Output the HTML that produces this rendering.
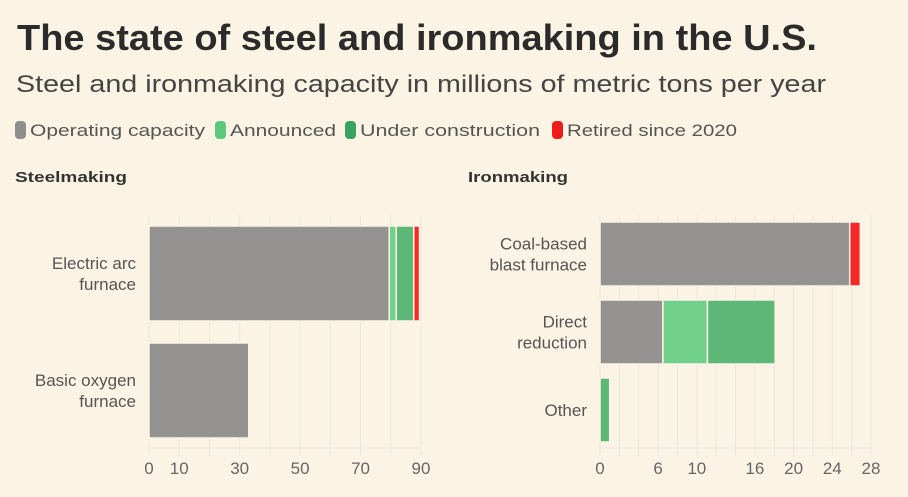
<!DOCTYPE html>
<html><head><meta charset="utf-8"><style>
html,body{margin:0;padding:0;background:#fbf4e4;}
svg{display:block;font-family:"Liberation Sans",sans-serif;}
</style></head><body>
<svg id="chart" width="908" height="497" viewBox="0 0 908 497">
<rect width="908" height="497" fill="#fbf4e4"/>
<text x="17" y="50" font-size="36" font-weight="bold" fill="#2b2b2b" textLength="800" lengthAdjust="spacingAndGlyphs">The state of steel and ironmaking in the U.S.</text>
<text x="16" y="92" font-size="24" fill="#444" textLength="810" lengthAdjust="spacingAndGlyphs">Steel and ironmaking capacity in millions of metric tons per year</text>
<g font-size="17" fill="#555">
<rect x="15" y="121" width="11" height="18" rx="4" fill="#8f8d8d"/>
<text x="30" y="136" textLength="175" lengthAdjust="spacingAndGlyphs">Operating capacity</text>
<rect x="215" y="121" width="11" height="18" rx="4" fill="#5cc87e"/>
<text x="230" y="136" textLength="106" lengthAdjust="spacingAndGlyphs">Announced</text>
<rect x="345" y="121" width="11" height="18" rx="4" fill="#3aa35f"/>
<text x="360" y="136" textLength="180" lengthAdjust="spacingAndGlyphs">Under construction</text>
<rect x="552" y="121" width="11" height="18" rx="4" fill="#ee1c1c"/>
<text x="567" y="136" textLength="170" lengthAdjust="spacingAndGlyphs">Retired since 2020</text>
</g>
<text x="15" y="182" font-size="15" font-weight="bold" fill="#333" textLength="112" lengthAdjust="spacingAndGlyphs">Steelmaking</text>
<text x="468" y="182" font-size="15" font-weight="bold" fill="#333" textLength="100" lengthAdjust="spacingAndGlyphs">Ironmaking</text>
<g id="left"></g><g id="right"></g>
</svg>
<script>
const colors=["#959391","#6fcf8b","#5db878","#f42a2a"];
const steelCats=[["Electric arc","furnace"],["Basic oxygen","furnace"]];
const steelOperating=[79.5,33];
const steelAnnounced=[2.3,0];
const steelUnder=[5.8,0];
const steelRetired=[1.9,0];
const steelTicks=[0,10,30,50,70,90];
const ironCats=[["Coal-based","blast furnace"],["Direct","reduction"],["Other"]];
const ironOperating=[25.8,6.5,0];
const ironAnnounced=[0,4.6,0];
const ironUnder=[0,7,1];
const ironRetired=[1.1,0,0];
const ironTicks=[0,6,10,16,20,24,28];
const NS="http://www.w3.org/2000/svg";
function mk(p,tag,a){const e=document.createElementNS(NS,tag);for(const k in a)e.setAttribute(k,a[k]);p.appendChild(e);return e;}
function panel(g,cfg){
  const x=v=>cfg.x0+(v/cfg.max)*(cfg.x1-cfg.x0);
  for(let v=0;v<=cfg.max;v+=cfg.grid){
    const l=mk(g,'line',{x1:x(v),x2:x(v),y1:cfg.gTop,y2:cfg.axisY+8,stroke:'#ece7df','stroke-width':1});
    
    
  }
  const ax=mk(g,'line',{x1:cfg.x0,x2:x(cfg.max),y1:cfg.axisY,y2:cfg.axisY,stroke:'#ece7df'});
  
  
  cfg.ticks.forEach(t=>{
    const tx=mk(g,'text',{x:x(t),y:cfg.axisY+26,'text-anchor':'middle','font-size':17,fill:'#666'});
    tx.textContent=t;
    
    
  });
  cfg.cats.forEach((c,i)=>{
    const y=cfg.top+i*cfg.step;
    const series=[cfg.s[0][i],cfg.s[1][i],cfg.s[2][i],cfg.s[3][i]];
    let acc=0;
    series.forEach((v,j)=>{
      if(v>0){
        const r=mk(g,'rect',{x:x(acc),y:y,width:x(acc+v)-x(acc),height:cfg.h,fill:colors[j],stroke:'#fbf4e4','stroke-width':1.5});
        
        
      }
      acc+=v;
    });
    const n=c.length, cy=y+cfg.h/2;
    c.forEach((line,k)=>{
      const t=mk(g,'text',{x:cfg.x0-13,y:cy+6+(k-(n-1)/2)*21,'text-anchor':'end','font-size':17,fill:'#555'});
      t.textContent=line;
      
      
    });
  });
}
panel(document.getElementById('left'),{x0:149,x1:421,max:90,grid:10,ticks:steelTicks,cats:steelCats,s:[steelOperating,steelAnnounced,steelUnder,steelRetired],top:226,step:117,h:95,axisY:448,gTop:215});
panel(document.getElementById('right'),{x0:600,x1:871,max:28,grid:2,ticks:ironTicks,cats:ironCats,s:[ironOperating,ironAnnounced,ironUnder,ironRetired],top:222,step:78,h:64,axisY:448,gTop:215});
</script>
</body></html>
